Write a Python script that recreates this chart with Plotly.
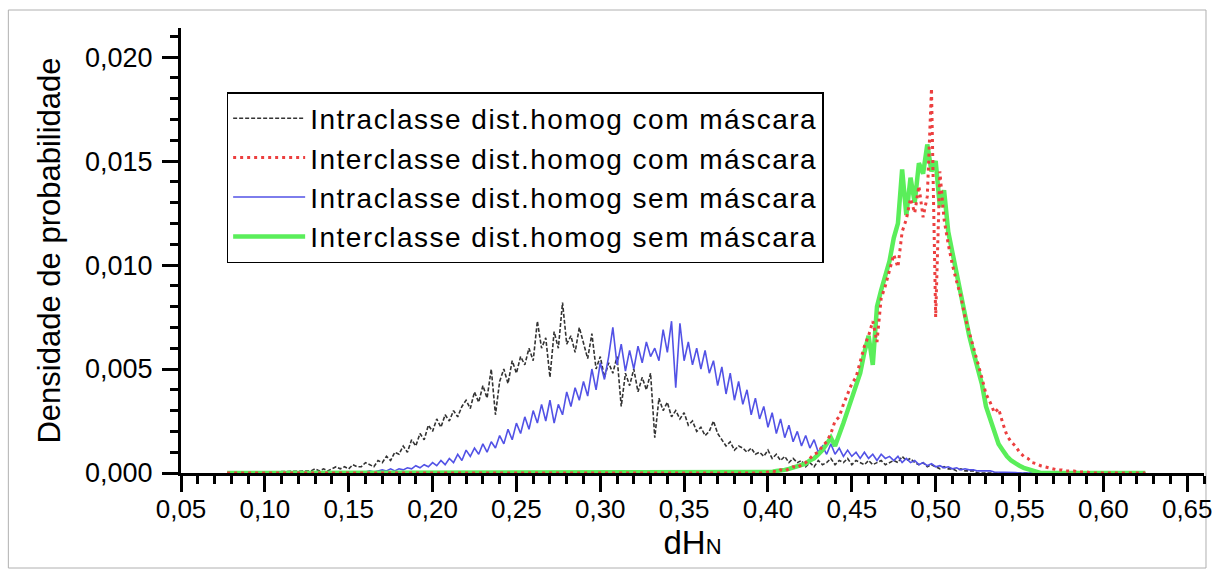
import plotly.graph_objects as go

# Histogram range (x) and bin step
hist_min = 0.0775
hist_max = 0.625
bin_step = 0.0025

# Intraclasse dist.homog com máscara (values x 1e-3)
black_start = 0.125
black_vals = [
    0.1, 0.1, 0.2, 0.1, 0.2, 0.1, 0.2, 0.3, 0.2, 0.3,
    0.2, 0.4, 0.3, 0.3, 0.5, 0.4, 0.3, 0.6, 0.5, 0.8,
    0.6, 1.0, 0.9, 1.3, 1.0, 1.6, 1.3, 1.9, 1.6, 2.3,
    2.0, 2.6, 2.2, 2.8, 2.5, 3.0, 2.7, 3.2, 3.5, 3.1,
    3.9, 3.4, 4.2, 3.6, 5.0, 2.8, 4.4, 5.0, 4.3, 5.4,
    4.8, 5.6, 5.2, 6.0, 5.4, 7.3, 6.0, 6.5, 4.6, 6.8,
    6.0, 8.2, 6.2, 6.6, 5.8, 7.0, 6.2, 5.5, 6.7, 5.0,
    5.6, 4.6, 5.3, 4.8, 5.6, 3.2, 4.8, 4.2, 5.0, 3.9,
    4.6, 4.0, 4.8, 1.7, 3.6, 3.0, 3.4, 2.7, 3.0, 2.6,
    2.9, 2.3, 2.5, 2.0, 2.2, 1.8, 2.0, 2.5, 1.9, 1.6,
    1.3, 1.5, 1.1, 1.3, 1.2, 1.0, 1.2, 0.9, 1.0, 0.8,
    1.1, 0.7, 0.9, 0.6, 0.8, 0.5, 0.7, 0.5, 0.6, 0.3,
    0.5, 0.3, 0.6, 0.4, 0.5, 0.7, 0.4, 0.6, 0.5, 0.7,
    0.4, 0.6, 0.5, 0.4, 0.6, 0.4, 0.5, 0.6, 0.4, 0.5,
    0.6, 0.5, 0.8, 0.6, 0.7, 0.5, 0.4, 0.5, 0.3, 0.4,
    0.3, 0.2, 0.3, 0.2, 0.2, 0.1, 0.2, 0.1, 0.1, 0.1,
    0.0,
]

# Intraclasse dist.homog sem máscara
blue_start = 0.16
blue_vals = [
    0.05, 0.1, 0.05, 0.1, 0.15, 0.1, 0.2, 0.1, 0.2, 0.15,
    0.25, 0.2, 0.35, 0.25, 0.4, 0.3, 0.5, 0.35, 0.6, 0.4,
    0.7, 0.5, 0.9, 0.6, 1.1, 0.8, 1.2, 0.9, 1.4, 1.0,
    1.5, 1.2, 1.8, 1.4, 2.1, 1.6, 2.4, 1.9, 2.7, 2.1,
    3.0, 2.4, 3.3, 2.5, 3.5, 2.4, 3.3, 2.8, 3.9, 3.2,
    4.1, 3.5, 4.4, 3.7, 5.0, 4.0, 5.3, 4.5, 5.6, 7.0,
    5.2, 6.2, 4.9, 5.9, 5.0, 6.1, 5.3, 6.3, 5.6, 6.0,
    5.4, 6.9, 5.8, 7.3, 4.1, 7.2, 5.4, 6.3, 5.2, 6.0,
    5.0, 5.9, 4.8, 5.4, 4.2, 5.1, 3.8, 4.8, 3.5, 4.4,
    3.3, 4.0, 2.8, 3.6, 2.6, 3.2, 2.2, 2.9, 1.9, 2.6,
    1.7, 2.3, 1.5, 2.0, 1.3, 1.8, 1.2, 1.6, 1.0, 1.3,
    0.9, 1.4, 0.9, 1.2, 0.8, 1.1, 0.8, 1.0, 0.7, 1.0,
    0.7, 0.9, 0.6, 0.9, 0.7, 0.8, 0.6, 0.8, 0.5, 0.7,
    0.5, 0.6, 0.4, 0.5, 0.35, 0.45, 0.3, 0.35, 0.25, 0.3,
    0.2, 0.25, 0.15, 0.2, 0.15, 0.15, 0.1, 0.1, 0.1, 0.1,
    0.05, 0.05, 0.05, 0.05, 0.03, 0.02, 0.0,
]

# Interclasse dist.homog sem máscara
green_start = 0.3975
green_vals = [
    0.0, 0.05, 0.05, 0.1, 0.1, 0.15, 0.2, 0.25, 0.3, 0.35,
    0.45, 0.6, 0.7, 0.9, 1.1, 1.4, 1.7, 1.3, 1.8, 2.4,
    3.0, 3.6, 4.1, 4.8, 5.8, 6.6, 5.2, 8.0, 8.8, 9.6,
    10.2, 11.3, 12.0, 14.6, 12.4, 14.2, 13.0, 14.9, 14.4, 15.8,
    14.5, 15.0, 12.8, 13.6, 11.6, 10.6, 9.6, 8.4, 7.4, 6.6,
    5.8, 5.0, 4.3, 3.2, 2.6, 1.9, 1.4, 1.1, 0.8, 0.6,
    0.45, 0.35, 0.25, 0.2, 0.1, 0.05, 0.0,
]

# Interclasse dist.homog com máscara
red_start = 0.3975
red_vals = [
    0.0, 0.05, 0.1, 0.05, 0.15, 0.1, 0.2, 0.3, 0.25, 0.4,
    0.5, 0.7, 0.9, 1.0, 1.3, 1.5, 1.9, 2.5, 2.7, 3.3,
    3.8, 4.3, 4.6, 5.4, 6.1, 6.6, 7.3, 6.3, 8.4, 9.0,
    9.8, 10.5, 9.9, 11.6, 12.2, 13.2, 12.5, 13.8, 12.3, 13.3,
    18.5, 7.5, 14.5, 12.2, 11.0, 10.0, 9.2, 8.5, 7.5, 6.8,
    6.0, 5.3, 4.6, 3.8, 3.4, 2.9, 3.1, 2.4, 1.8, 1.5,
    1.3, 1.0, 0.8, 0.7, 0.5, 0.45, 0.35, 0.3, 0.25, 0.2,
    0.15, 0.15, 0.1, 0.1, 0.1, 0.05, 0.05, 0.05, 0.0,
]

names = [
    "Intraclasse dist.homog com máscara",
    "Interclasse dist.homog com máscara",
    "Intraclasse dist.homog sem máscara",
    "Interclasse dist.homog sem máscara",
]


def series(start, vals):
    xs = [hist_min] + [start + i * bin_step for i in range(len(vals))] + [hist_max]
    ys = [0.0] + [v * 1e-3 for v in vals] + [0.0]
    return xs, ys


def legend_label(s):
    return "<span style='letter-spacing:1.5px'>" + s + "</span>"


FONT = "Liberation Sans, Arial, sans-serif"
fig = go.Figure()

bx, by = series(black_start, black_vals)
fig.add_trace(go.Scatter(x=bx, y=by, mode="lines", name=legend_label(names[0]), legendrank=1,
                         line=dict(color="#333333", width=1.6, dash="4px,2px")))
ux, uy = series(blue_start, blue_vals)
fig.add_trace(go.Scatter(x=ux, y=uy, mode="lines", name=legend_label(names[2]), legendrank=3,
                         line=dict(color="#5252e6", width=1.6)))
gx, gy = series(green_start, green_vals)
fig.add_trace(go.Scatter(x=gx, y=gy, mode="lines", name=legend_label(names[3]), legendrank=4,
                         line=dict(color="#5aee5a", width=4.5)))
rx, ry = series(red_start, red_vals)
fig.add_trace(go.Scatter(x=rx, y=ry, mode="lines", name=legend_label(names[1]), legendrank=2,
                         line=dict(color="#ec3f3f", width=3, dash="3px,4px")))

W, H = 1221, 570
L, R, T, B = 181, 9, 28, 97
pw, ph = W - L - R, H - T - B

fig.update_layout(
    width=W, height=H,
    margin=dict(l=L, r=R, t=T, b=B, pad=0),
    paper_bgcolor="white", plot_bgcolor="white",
    separators=",.",
    font=dict(family=FONT, color="black"),
    showlegend=True,
    legend=dict(
        x=(227 - L) / pw, y=(H - B - 92) / ph, xanchor="left", yanchor="top",
        bgcolor="white", bordercolor="black", borderwidth=1.5,
        font=dict(family=FONT, size=28, color="black"),
        itemwidth=72, traceorder="normal",
    ),
    xaxis=dict(
        range=[0.05, 0.66], tick0=0.05, dtick=0.05, tickformat=".2f",
        showgrid=False, zeroline=False, showline=True, linecolor="black", linewidth=3,
        ticks="outside", ticklen=16, tickwidth=3, tickcolor="black",
        minor=dict(dtick=0.01, tick0=0.05, ticks="outside", ticklen=8, tickwidth=3, tickcolor="black"),
        tickfont=dict(family=FONT, size=26, color="black"),
        ticklabelstandoff=-5,
        title=dict(text="dH<span style='font-size:22px'>N</span>",
                   font=dict(family=FONT, size=33, color="black"), standoff=4),
    ),
    yaxis=dict(
        range=[0, 0.0214], tick0=0, dtick=0.005, tickformat=".3f",
        showgrid=False, zeroline=False, showline=True, linecolor="black", linewidth=3,
        ticks="outside", ticklen=16, tickwidth=3, tickcolor="black",
        minor=dict(dtick=0.001, ticks="outside", ticklen=8, tickwidth=3, tickcolor="black"),
        tickfont=dict(family=FONT, size=27, color="black"),
        ticklabelstandoff=4,
        title=dict(text="Densidade de probabilidade",
                   font=dict(family=FONT, size=31, color="black"), standoff=16),
    ),
)

# outer light-gray frame around the whole picture
fig.add_shape(type="rect", xref="paper", yref="paper", layer="below",
              x0=(7 - L) / pw, x1=(1214 - L) / pw,
              y0=(H - B - 568) / ph, y1=(H - B - 10) / ph,
              line=dict(color="#b0b0b0", width=1), fillcolor="rgba(0,0,0,0)")

fig.write_html("out.html")
